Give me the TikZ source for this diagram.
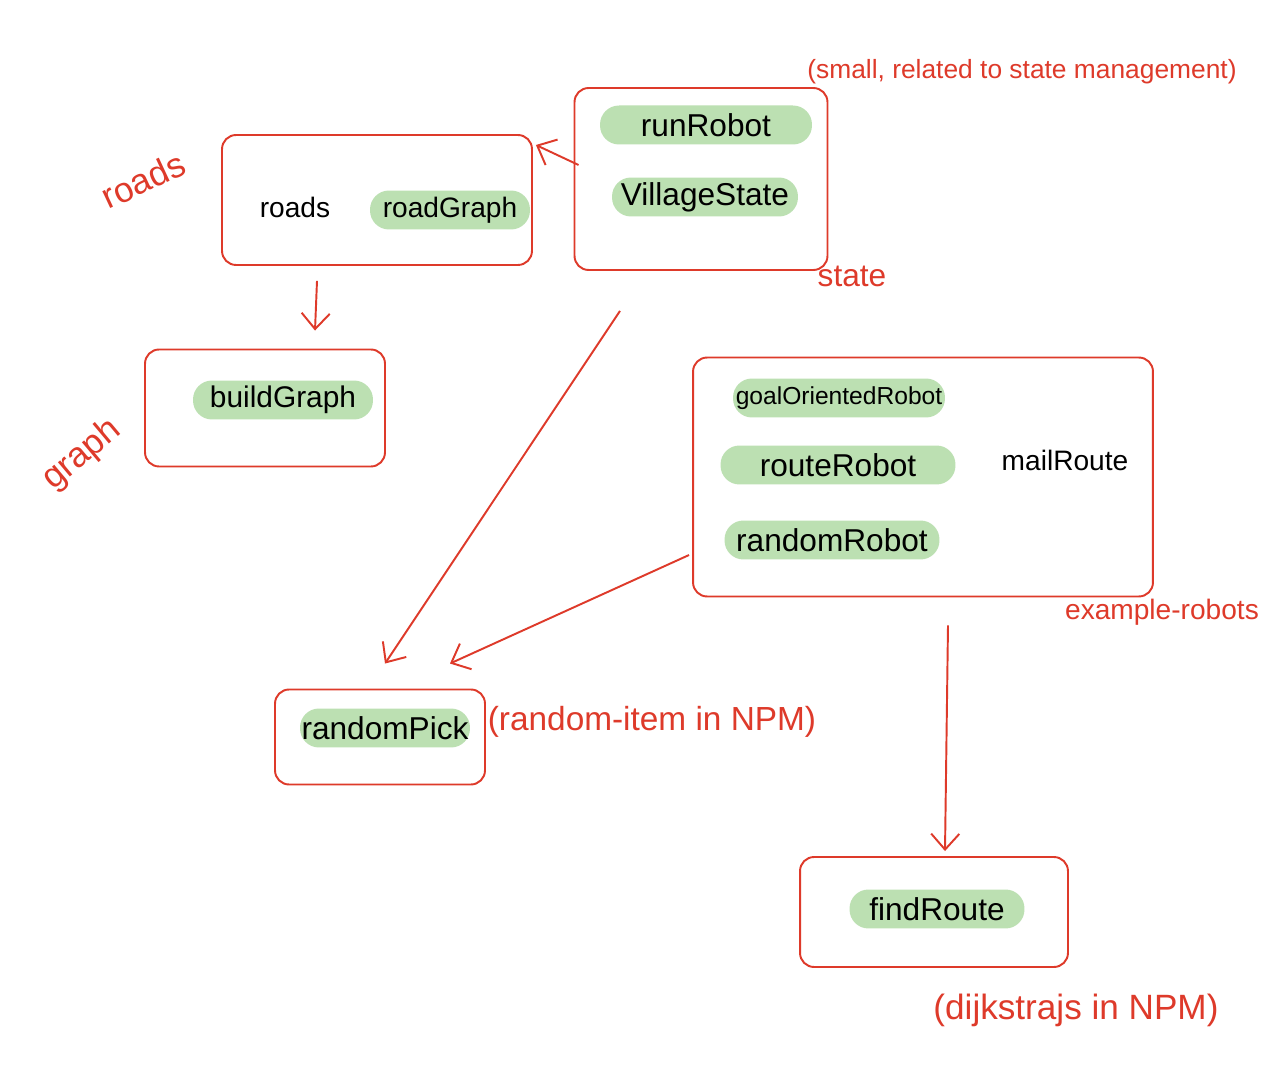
\documentclass[tikz,border=0pt]{standalone}
\usepackage{fontspec}
\setmainfont{Liberation Sans}
\usepackage{tikz}
\usetikzlibrary{arrows.meta, positioning, calc}
\definecolor{myred}{RGB}{222,58,42}
\definecolor{hlgreen}{RGB}{188,224,178}
\tikzset{
  box/.style={rectangle, draw=myred, line width=1.1pt, rounded corners=8pt},
  hl/.style={rectangle, fill=hlgreen, rounded corners=0.38cm, inner sep=0pt,
    minimum height=0.78cm, font=\fontsize{18}{20}\selectfont},
  plain/.style={font=\fontsize{16}{18}\selectfont},
  note/.style={text=myred, font=\fontsize{16}{18}\selectfont},
  arrow/.style={-{Straight Barb[length=9pt, width=16pt]}, line width=1.1pt, color=myred}
}

\begin{document}
\begin{tikzpicture}[x=0.02cm, y=-0.02cm]
  \path[fill=white, use as bounding box] (0,0) rectangle (1282,1074);

  % State
  \node[box, minimum width=5.06cm, minimum height=3.64cm] (state) at (701,179) {};
  \node[hl, minimum width=4.24cm] (runrobot) at (706,125) {runRobot};
  \node[hl, minimum width=3.72cm] (village) at (705,197) {VillageState};

  % Roads
  \node[box, minimum width=6.2cm, minimum height=2.6cm] (roads) at (377,200) {};
  \node[plain] (roadlist) at (295,207) {roads};
  \node[hl, minimum width=3.2cm, font=\fontsize{16}{18}\selectfont] (roadgraph) at (450,210) {roadGraph};

  % Graph
  \node[box, minimum width=4.8cm, minimum height=2.34cm] (buildgraph) at (265,408) {};
  \node[hl, minimum width=3.6cm, font=\fontsize{17}{19}\selectfont] (build) at (283,400) {buildGraph};

  % Example robots
  \node[box, minimum width=9.2cm, minimum height=4.78cm] (robots) at (923,477) {};
  \node[hl, minimum width=4.24cm, font=\fontsize{14}{16}\selectfont] (goal) at (839,398) {goalOrientedRobot};
  \node[hl, minimum width=4.7cm] (route) at (838,465) {routeRobot};
  \node[hl, minimum width=4.3cm] (random) at (832,540) {randomRobot};
  \node[plain] (mail) at (1065,460) {mailRoute};

  % Random pick
  \node[box, minimum width=4.2cm, minimum height=1.9cm] (pick) at (380,737) {};
  \node[hl, minimum width=3.4cm] (randompick) at (385,728) {randomPick};

  % Find route
  \node[box, minimum width=5.36cm, minimum height=2.2cm] (findroute) at (934,912) {};
  \node[hl, minimum width=3.5cm] (find) at (937,909) {findRoute};

  % Notes
  \node[note, rotate=25, font=\fontsize{20}{22}\selectfont] (lroads) at (143,180) {roads};
  \node[note, rotate=40, font=\fontsize{20}{22}\selectfont] (lgraph) at (82,455) {graph};
  \node[note, font=\fontsize{18}{20}\selectfont] (lstate) at (852,276) {state};
  \node[note, font=\fontsize{15}{17}\selectfont] (lsmall) at (1022,72) {(small, related to state management)};
  \node[note] (lrobots) at (1162,612) {example-robots};
  \node[note, font=\fontsize{19}{21}\selectfont] (lpick) at (652,722) {(random-item in NPM)};
  \node[note, font=\fontsize{20}{22}\selectfont] (ldijk) at (1076,1010) {(dijkstrajs in NPM)};

  \draw[arrow] ($(state.west)+(5,-14)$) -- ($(roads.east)+(3,-55)$);
  \draw[arrow] ($(roads.south)+(-60,15)$) -- ($(buildgraph.north)+(50,-18)$);
  \draw[arrow] ($(state.south)+(-81,40)$) -- ($(pick.north)+(5,-25)$);
  \draw[arrow] ($(robots.west)+(-3,78)$) -- ($(pick.north)+(70,-25)$);
  \draw[arrow] ($(robots.south)+(25,28)$) -- ($(findroute.north)+(11,-5)$);
\end{tikzpicture}
\end{document}
